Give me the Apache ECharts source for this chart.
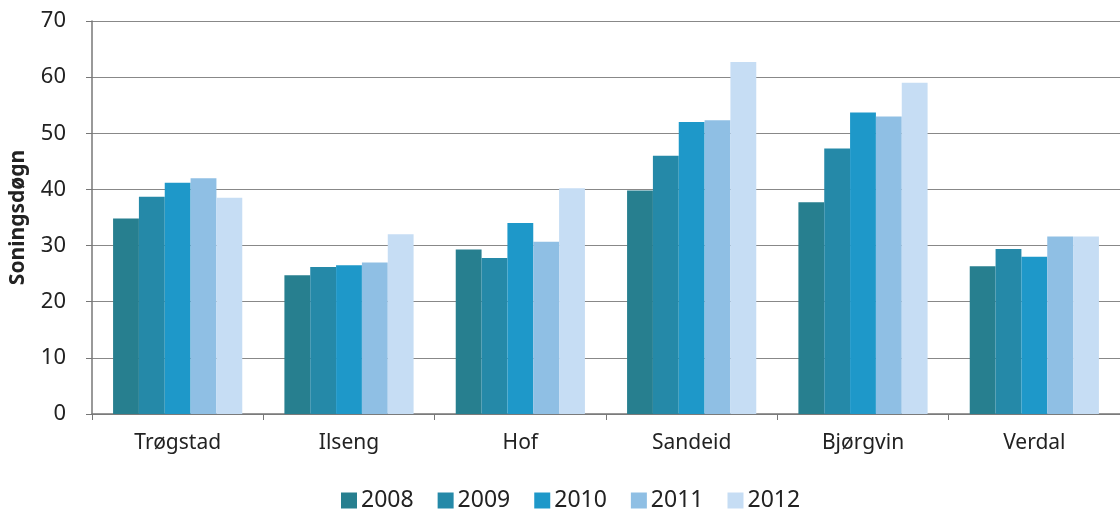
<!DOCTYPE html>
<html><head><meta charset="utf-8">
<script src="https://cdn.jsdelivr.net/npm/echarts@6/dist/echarts.min.js"></script>
<style>html,body{margin:0;padding:0;background:#fff}#c{width:1120px;height:512px}</style>
</head><body><div id="c"></div>
<script>
const categories = ['Trøgstad','Ilseng','Hof','Sandeid','Bjørgvin','Verdal'];
const years = ['2008','2009','2010','2011','2012'];
const v2008 = [34.8, 24.7, 29.3, 39.8, 37.7, 26.3];
const v2009 = [38.7, 26.2, 27.8, 46.0, 47.3, 29.4];
const v2010 = [41.2, 26.5, 34.0, 52.0, 53.7, 28.0];
const v2011 = [42.0, 27.0, 30.7, 52.3, 53.0, 31.6];
const v2012 = [38.5, 32.0, 40.2, 62.7, 59.0, 31.6];
const seriesValues = [v2008, v2009, v2010, v2011, v2012];
const colors = ['#277f8f','#2589a8','#1e98c9','#8fbfe4','#c6ddf4'];
const font = 'Noto Sans';

const chart = echarts.init(document.getElementById('c'));
chart.setOption({
  animation: false,
  textStyle: {fontFamily: font},
  grid: {left: 92, top: 21, width: 1040, height: 393},
  legend: {
    left: 336, top: 484, itemWidth: 16, itemHeight: 16, itemGap: 24,
    icon: 'rect',
    textStyle: {fontSize: 23, color: '#222', fontFamily: font, padding: [0,0,0,-1]},
    data: years
  },
  xAxis: {
    type: 'category', data: categories,
    axisLine: {lineStyle: {color: '#777', width: 1.5}},
    axisTick: {show: true, length: 6, lineStyle: {color: '#777'}},
    axisLabel: {fontSize: 21, color: '#222', margin: 19}
  },
  yAxis: {
    type: 'value', min: 0, max: 70, interval: 10,
    name: 'Soningsdøgn', nameLocation: 'middle', nameGap: 63,
    nameTextStyle: {fontSize: 21, fontWeight: 'bold', color: '#222'},
    axisLine: {show: true, lineStyle: {color: '#777', width: 1.5}},
    axisTick: {show: true, length: 6, lineStyle: {color: '#777'}},
    axisLabel: {fontSize: 22, color: '#222', margin: 26},
    splitLine: {lineStyle: {color: '#888', width: 1.2}}
  },
  series: years.map((y, i) => ({
    name: y, type: 'bar', data: seriesValues[i],
    barGap: '0%', barCategoryGap: '24.6%',
    itemStyle: {color: colors[i]}
  }))
});
</script></body></html>
